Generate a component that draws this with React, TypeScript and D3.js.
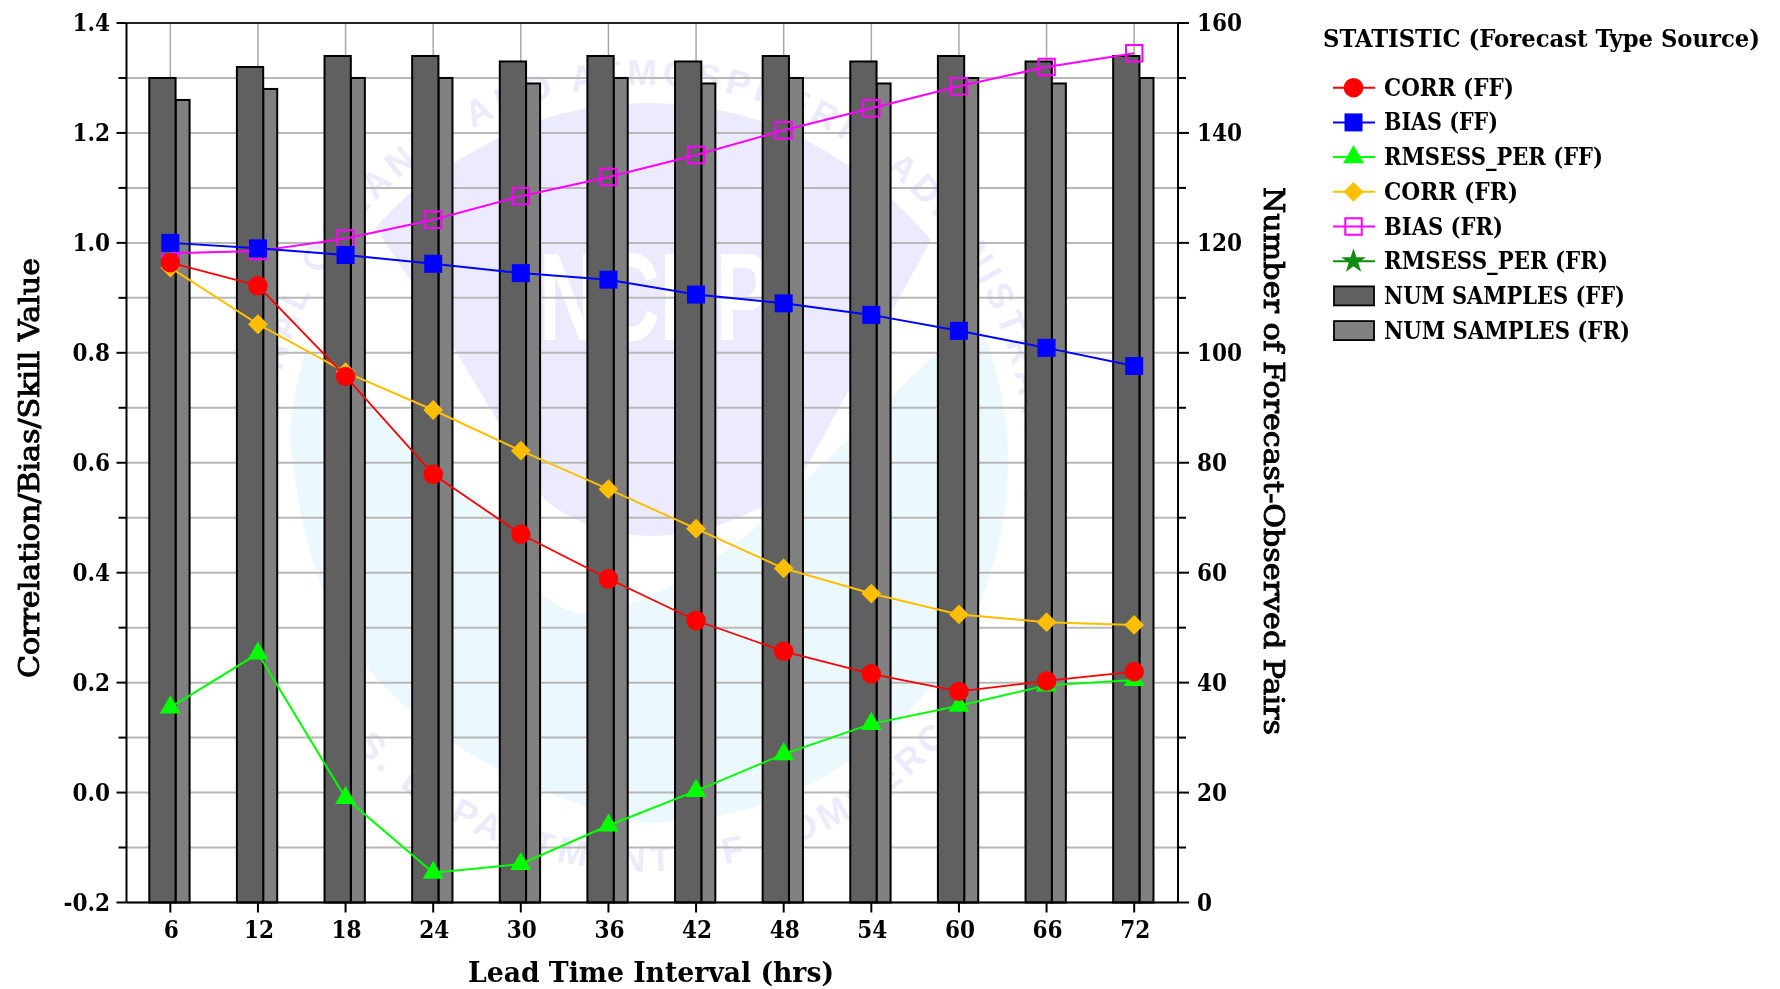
import React from "react";
import * as d3 from "d3";

const leads = [6, 12, 18, 24, 30, 36, 42, 48, 54, 60, 66, 72];
const corrFF = [0.964, 0.922, 0.757, 0.579, 0.47, 0.389, 0.313, 0.257, 0.216, 0.184, 0.203, 0.22];
const biasFF = [1.0, 0.99, 0.978, 0.962, 0.945, 0.933, 0.906, 0.89, 0.869, 0.84, 0.809, 0.776];
const rmsessFF = [0.155, 0.253, -0.01, -0.146, -0.13, -0.06, 0.003, 0.07, 0.125, 0.158, 0.195, 0.205];
const corrFR = [0.955, 0.852, 0.765, 0.696, 0.622, 0.552, 0.48, 0.408, 0.362, 0.324, 0.31, 0.305];
const biasFR = [0.981, 0.985, 1.008, 1.042, 1.085, 1.12, 1.16, 1.205, 1.245, 1.285, 1.32, 1.345];
const samplesFF = [150, 152, 154, 154, 153, 154, 153, 154, 153, 154, 153, 154];
const samplesFR = [146, 148, 150, 150, 149, 150, 149, 150, 149, 150, 149, 150];
const leftTicks = [-0.2, 0, 0.2, 0.4, 0.6, 0.8, 1.0, 1.2, 1.4];
const rightTicks = [0, 20, 40, 60, 80, 100, 120, 140, 160];
const minorTicks = [-0.1, 0.1, 0.3, 0.5, 0.7, 0.9, 1.1, 1.3];
const legendTitle = "STATISTIC (Forecast Type Source)";

const FONT = "'DejaVu Serif Condensed', 'DejaVu Serif', serif";
const L = 126.5, R = 1178, T = 23, B = 902.5;
const x = d3.scaleBand<number>().domain(leads).range([L, R]);
const cx = (d: number) => x(d)! + x.bandwidth() / 2;
const yL = d3.scaleLinear().domain([-0.2, 1.4]).range([B, T]);
const yR = d3.scaleLinear().domain([0, 160]).range([B, T]);
const line = d3.line<number>().x((_, i) => cx(leads[i])).y((v) => yL(v));

type Shape = "circle" | "square" | "triangle" | "diamond" | "open" | "star";
const SYM: Record<string, d3.SymbolType> = {
  circle: d3.symbolCircle, square: d3.symbolSquare, triangle: d3.symbolTriangle,
  diamond: d3.symbolDiamond2, open: d3.symbolSquare, star: d3.symbolStar,
};
const AREA: Record<string, number> = { circle: 300, square: 324, triangle: 190, diamond: 250, open: 270, star: 190 };
function Marker({ shape, px, py, color }: { shape: Shape; px: number; py: number; color: string }) {
  const d = d3.symbol().type(SYM[shape]).size(AREA[shape])()!;
  return shape === "open"
    ? <path d={d} transform={`translate(${px},${py})`} fill="none" stroke={color} strokeWidth={2} />
    : <path d={d} transform={`translate(${px},${py})`} fill={color} />;
}

const series: { name: string; values: number[]; color: string; shape: Shape; w: number }[] = [
  { name: "BIAS (FR)", values: biasFR, color: "#ff00ff", shape: "open", w: 2 },
  { name: "CORR (FR)", values: corrFR, color: "#ffbf00", shape: "diamond", w: 2 },
  { name: "RMSESS_PER (FF)", values: rmsessFF, color: "#00ff00", shape: "triangle", w: 2 },
  { name: "BIAS (FF)", values: biasFF, color: "#0000ff", shape: "square", w: 2 },
  { name: "CORR (FF)", values: corrFF, color: "#ff0000", shape: "circle", w: 1.8 },
];
const legendRows: { name: string; color?: string; shape?: Shape; fill?: string; tl: number }[] = [
  { name: "CORR (FF)", color: "#ff0000", shape: "circle", tl: 130 },
  { name: "BIAS (FF)", color: "#0000ff", shape: "square", tl: 114 },
  { name: "RMSESS_PER (FF)", color: "#00ff00", shape: "triangle", tl: 219 },
  { name: "CORR (FR)", color: "#ffbf00", shape: "diamond", tl: 134 },
  { name: "BIAS (FR)", color: "#ff00ff", shape: "open", tl: 119 },
  { name: "RMSESS_PER (FR)", color: "#118c11", shape: "star", tl: 224 },
  { name: "NUM SAMPLES (FF)", fill: "#606060", tl: 241 },
  { name: "NUM SAMPLES (FR)", fill: "#808080", tl: 246 },
];

const WCX = 648, WCY = 463, WR = 360;

function Watermark() {
  const lav = "#ebebfd", blue = "#ebf9ff";
  return (
    <g>
      <defs>
        <path id="ringTop" d={`M ${WCX - 372} ${WCY + 60} A 377 377 0 1 1 ${WCX + 372} ${WCY + 60}`} />
        <path id="ringBot" d={`M ${WCX - 372} ${WCY + 165} A 406 406 0 0 0 ${WCX + 372} ${WCY + 165}`} />
        <clipPath id="disc"><circle cx={WCX} cy={WCY} r={WR} /></clipPath>
      </defs>
      <g clipPath="url(#disc)">
        <path fill={blue} d={`M 285 330 L 500 520 Q 530 612 590 614 Q 680 600 780 505 L 960 330 L 1020 330 L 1020 830 L ${WCX + 30} 830 Q 470 790 360 660 Q 285 560 285 330 Z`} />
        <path fill={lav} d={`M 372 222 Q 520 100 648 100 Q 800 100 932 238 L 795 488 Q 720 536 652 536 Q 590 536 545 500 L 443 330 Z`} />
        <text x={655} y={340} textAnchor="middle" fontFamily="'Liberation Sans', sans-serif" fontWeight="bold" fontSize={124} textLength={232} lengthAdjust="spacingAndGlyphs" fill="#ffffff">NCEP</text>
      </g>
      <g fontFamily="'Liberation Sans', sans-serif" fontWeight="bold" fontSize={36} fill="#ebebfb">
        <text><textPath href="#ringTop" startOffset="50%" textAnchor="middle" letterSpacing={5}>NATIONAL OCEANIC AND ATMOSPHERIC ADMINISTRATION</textPath></text>
        <text><textPath href="#ringBot" startOffset="50%" textAnchor="middle" letterSpacing={5}>U.S. DEPARTMENT OF COMMERCE</textPath></text>
      </g>
    </g>
  );
}

export default function App() {
  const bw = x.bandwidth();
  const ffW = bw * 0.3, frW = bw * 0.16, off = -bw * 0.24;
  return (
    <svg width={1780} height={989} style={{ position: "absolute", left: 0, top: 0, background: "#fff" }}>
      <defs>
        <filter id="soft" x="-2%" y="-2%" width="104%" height="104%"><feGaussianBlur stdDeviation={0.6} /></filter>
      </defs>
      <g filter="url(#soft)">
        <rect width={1780} height={989} fill="#fff" />
        <Watermark />
        {[...leftTicks, ...minorTicks].map((t) => (
          <line key={t} x1={L} x2={R} y1={yL(t)} y2={yL(t)} stroke="#b8b8b8" strokeWidth={2} />
        ))}
        {leads.map((d) => (
          <line key={d} x1={cx(d)} x2={cx(d)} y1={T} y2={B} stroke="#a8a8a8" strokeWidth={1.5} />
        ))}
        {leads.map((d, i) => (
          <g key={d} stroke="#000" strokeWidth={2}>
            <rect x={x(d)! + bw / 2 + off + ffW} width={frW} y={yR(samplesFR[i])} height={B - yR(samplesFR[i])} fill="#808080" />
            <rect x={x(d)! + bw / 2 + off} width={ffW} y={yR(samplesFF[i])} height={B - yR(samplesFF[i])} fill="#606060" />
          </g>
        ))}
        {series.map((s) => (
          <g key={s.name}>
            <path d={line(s.values)!} fill="none" stroke={s.color} strokeWidth={s.w} />
            {s.values.map((v, i) => (
              <Marker key={i} shape={s.shape} px={cx(leads[i])} py={yL(v)} color={s.color} />
            ))}
          </g>
        ))}
        <g stroke="#000" strokeWidth={2}>
          <line x1={L} x2={R} y1={T} y2={T} stroke="#222" />
          <line x1={L} x2={R} y1={B} y2={B} />
          <line x1={L} x2={L} y1={T} y2={B} />
          <line x1={R} x2={R} y1={T} y2={B} />
          {leftTicks.map((t) => <line key={t} x1={L - 10} x2={L} y1={yL(t)} y2={yL(t)} />)}
          {minorTicks.map((t) => <line key={t} x1={L - 8} x2={L} y1={yL(t)} y2={yL(t)} />)}
          {rightTicks.map((t) => <line key={t} x1={R} x2={R + 11} y1={yR(t)} y2={yR(t)} />)}
          {rightTicks.slice(0, -1).map((t) => <line key={t} x1={R} x2={R + 8} y1={yR(t + 10)} y2={yR(t + 10)} />)}
          {leads.map((d) => <line key={d} x1={cx(d)} x2={cx(d)} y1={B} y2={B + 10} />)}
        </g>
        <g fontFamily={FONT} fontStretch="condensed" fontWeight="bold" fontSize={24} fill="#000">
          {leftTicks.map((t) => (
            <text key={t} x={110} y={yL(t) + 8} textAnchor="end">{t.toFixed(1)}</text>
          ))}
          {rightTicks.map((t) => (
            <text key={t} x={1197} y={yR(t) + 8}>{t}</text>
          ))}
          {leads.map((d) => (
            <text key={d} x={cx(d) + 1} y={938} textAnchor="middle">{d}</text>
          ))}
          <text x={651} y={982} fontSize={27} textAnchor="middle" textLength={366} lengthAdjust="spacingAndGlyphs">Lead Time Interval (hrs)</text>
          <text transform="translate(39,468) rotate(-90)" fontSize={27} fontWeight="normal" stroke="#000" strokeWidth={0.9} textAnchor="middle" textLength={420} lengthAdjust="spacingAndGlyphs">Correlation/Bias/Skill Value</text>
          <text transform="translate(1264,461) rotate(90)" fontSize={27} fontWeight="normal" stroke="#000" strokeWidth={0.9} textAnchor="middle" textLength={548} lengthAdjust="spacingAndGlyphs">Number of Forecast-Observed Pairs</text>
          <text x={1323} y={47} textLength={437} lengthAdjust="spacingAndGlyphs">{legendTitle}</text>
          {legendRows.map((r, i) => {
            const yy = 87.7 + i * 34.7;
            return (
              <g key={r.name}>
                {r.fill ? (
                  <rect x={1334} y={yy - 9.5} width={40} height={19} fill={r.fill} stroke="#000" strokeWidth={1.8} />
                ) : (
                  <g>
                    <line x1={1333} x2={1375} y1={yy} y2={yy} stroke={r.color} strokeWidth={2} />
                    <Marker shape={r.shape!} px={1353.5} py={yy} color={r.color!} />
                  </g>
                )}
                <text x={1384} y={yy + 8} textLength={r.tl} lengthAdjust="spacingAndGlyphs">{r.name}</text>
              </g>
            );
          })}
        </g>
      </g>
    </svg>
  );
}
